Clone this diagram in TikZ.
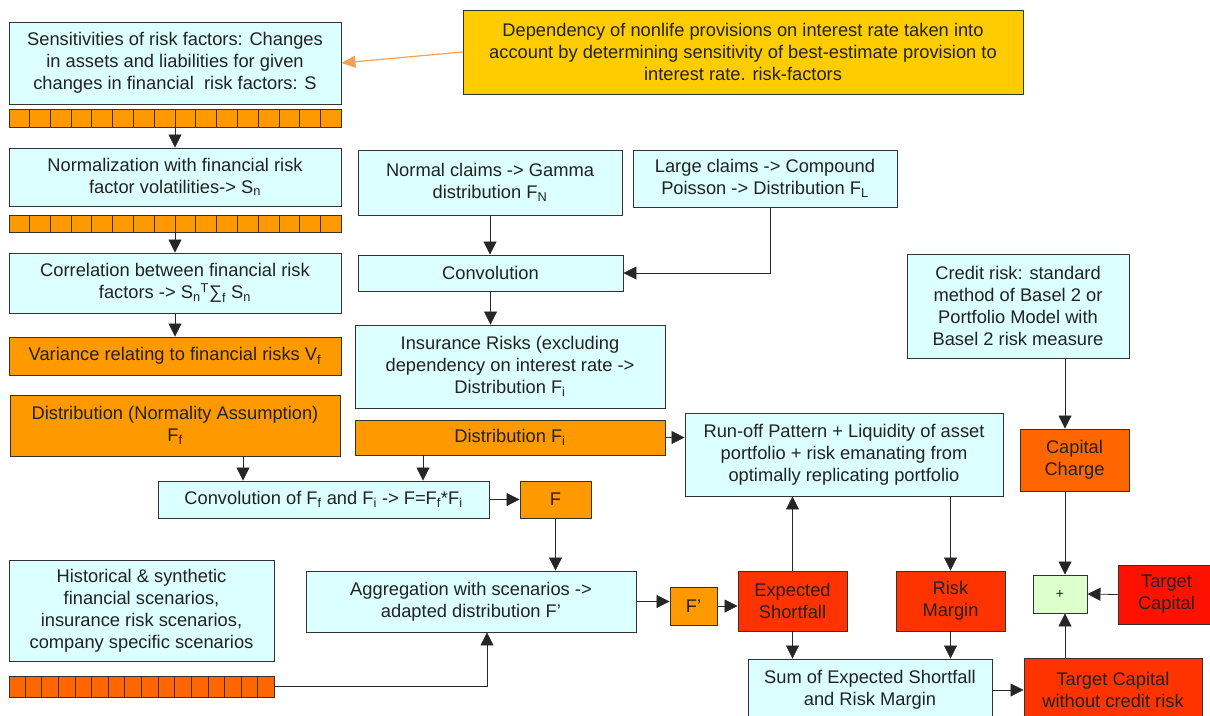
\documentclass[tikz,border=0pt]{standalone}
\usepackage{fontspec}
\setmainfont{Liberation Sans}
\usepackage{tikz}
\usetikzlibrary{shapes,positioning,calc}
\usetikzlibrary{arrows.meta}
\definecolor{azzurro}{HTML}{DCFFFF}
\definecolor{arancio}{HTML}{FF9900}
\definecolor{aranciosc}{HTML}{FF6600}
\definecolor{rosso}{HTML}{FF3300}
\definecolor{rossovivo}{HTML}{FF1100}
\definecolor{giallo}{HTML}{FFCC00}
\definecolor{verdino}{HTML}{DDFFCC}
\definecolor{bordo}{HTML}{333333}
\definecolor{testo}{HTML}{222222}
\definecolor{frecciaor}{HTML}{F5A055}
\tikzstyle{blocco} = [rectangle, draw=bordo, line width=0.9pt, inner sep=0pt, align=center, text=testo, font=\fontsize{18.3}{22}\selectfont]
\tikzstyle{fascia} = [rectangle, draw=bordo, line width=0.9pt, inner sep=0pt]
\tikzstyle{arrow} = [line width=0.8pt, draw=black!85, -{Triangle[width=13pt,length=13pt]}]
\tikzstyle{arrowor} = [line width=1.2pt, draw=frecciaor, -{Triangle[width=12pt,length=14pt]}]

\begin{document}
\begin{tikzpicture}[x=1pt,y=-1pt]
\useasboundingbox (0,0) rectangle (1210,715);
% colonna sinistra
\node (sens) at (175,63) [blocco, fill=azzurro, minimum width=332pt, minimum height=82pt] {Sensitivities of risk factors: Changes\\in assets and liabilities for given\\changes in financial\ \ risk factors: S};
\node (stripA) at (175,118) [fascia, fill=arancio, minimum width=332pt, minimum height=18pt] {};
\node (norm) at (175,177) [blocco, fill=azzurro, minimum width=332pt, minimum height=58pt] {Normalization with financial risk\\factor volatilities-> S\textsubscript{n}};
\node (stripB) at (175,223.5) [fascia, fill=arancio, minimum width=332pt, minimum height=17pt] {};
\node (corr) at (175,283) [blocco, fill=azzurro, minimum width=332pt, minimum height=60pt] {Correlation between financial risk\\factors -> S\textsubscript{n}\textsuperscript{T}∑\textsubscript{f} S\textsubscript{n}};
\node (var) at (175,356) [blocco, fill=arancio, minimum width=332pt, minimum height=38pt] {Variance relating to financial risks V\textsubscript{f}};
\node (distF) at (175,425.5) [blocco, fill=arancio, minimum width=330pt, minimum height=61pt] {Distribution (Normality Assumption)\\F\textsubscript{f}};
\node (hist) at (141.5,610.5) [blocco, fill=azzurro, minimum width=265pt, minimum height=101pt] {Historical \& synthetic\\financial scenarios,\\insurance risk scenarios,\\company specific scenarios};
\node (stripC) at (141.5,686.5) [fascia, fill=aranciosc, minimum width=265pt, minimum height=21pt] {};
\foreach \s in {stripA,stripB,stripC}
  \foreach \i in {1,...,15}
    \draw[bordo, line width=0.9pt] ($(\s.south west)!\i/16!(\s.south east)$) -- ($(\s.north west)!\i/16!(\s.north east)$);
% rischi assicurativi
\node (depend) at (743,52) [blocco, fill=giallo, minimum width=560pt, minimum height=84pt] {Dependency of nonlife provisions on interest rate taken into\\account by determining sensitivity of best-estimate provision to\\interest rate. risk-factors};
\node (normal) at (490,182.5) [blocco, fill=azzurro, minimum width=264pt, minimum height=65pt] {Normal claims -> Gamma\\distribution F\textsubscript{N}};
\node (large) at (765,178.5) [blocco, fill=azzurro, minimum width=264pt, minimum height=57pt] {Large claims -> Compound\\Poisson -> Distribution F\textsubscript{L}};
\node (conv) at (490.5,273) [blocco, fill=azzurro, minimum width=265pt, minimum height=36pt] {Convolution};
\node (ins) at (510,366.5) [blocco, fill=azzurro, minimum width=310pt, minimum height=83pt] {Insurance Risks (excluding\\dependency on interest rate ->\\Distribution F\textsubscript{i}};
\node (distI) at (510,437.5) [blocco, fill=arancio, minimum width=310pt, minimum height=35pt] {Distribution F\textsubscript{i}};
\node (convF) at (323.5,499.5) [blocco, fill=azzurro, minimum width=331pt, minimum height=37pt] {Convolution of F\textsubscript{f} and F\textsubscript{i} -> F=F\textsubscript{f}*F\textsubscript{i}};
\node (F) at (555.5,499.5) [blocco, fill=arancio, minimum width=71pt, minimum height=37pt] {F};
\node (agg) at (471,601.5) [blocco, fill=azzurro, minimum width=330pt, minimum height=61pt] {Aggregation with scenarios ->\\adapted distribution F’};
\node (Fp) at (693.5,606) [blocco, fill=arancio, minimum width=47pt, minimum height=38pt] {F’};
% capitale
\node (runoff) at (844,454.5) [blocco, fill=azzurro, minimum width=318pt, minimum height=83pt] {Run-off Pattern + Liquidity of asset\\portfolio + risk emanating from\\optimally replicating portfolio};
\node (credit) at (1018,306) [blocco, fill=azzurro, minimum width=222pt, minimum height=104pt] {Credit risk: standard\\method of Basel 2 or\\Portfolio Model with\\Basel 2 risk measure};
\node (capch) at (1074.5,460) [blocco, fill=aranciosc, minimum width=109pt, minimum height=62pt] {Capital\\Charge};
\node (ES) at (792.5,601) [blocco, fill=rosso, minimum width=109pt, minimum height=60pt] {Expected\\Shortfall};
\node (RM) at (950.5,601) [blocco, fill=rosso, minimum width=109pt, minimum height=60pt] {Risk\\Margin};
\node (plus) at (1060,594) [blocco, fill=verdino, minimum width=54pt, minimum height=38pt, font=\fontsize{14}{16}\selectfont] {+};
\node (TC) at (1166.5,594.5) [blocco, fill=rossovivo, minimum width=97pt, minimum height=59pt] {Target\\Capital};
\node (sum) at (870,690) [blocco, fill=azzurro, minimum width=244pt, minimum height=62pt] {Sum of Expected Shortfall\\and Risk Margin};
\node (TCW) at (1113,689.5) [blocco, fill=rosso, minimum width=178pt, minimum height=63pt] {Target Capital\\without credit risk};
\coordinate (vline) at ([xshift=5pt]plus.north);
% frecce
\draw[arrowor] (depend.west) -- (sens.east);
\draw[arrow] (stripA.south) -- (norm.north);
\draw[arrow] (stripB.south) -- (corr.north);
\draw[arrow] (corr.south) -- (var.north);
\draw[arrow] (normal.south) -- (normal.south |- conv.north);
\draw[arrow] ([xshift=5pt]large.south) |- (conv.east);
\draw[arrow] (conv.south) -- (conv.south |- ins.north);
\draw[arrow] ([xshift=68pt]distF.south) -- ([xshift=68pt]distF.south |- convF.north);
\draw[arrow] ([xshift=-87pt]distI.south) -- ([xshift=-87pt]distI.south |- convF.north);
\draw[arrow] (distI.east) -- (distI.east -| runoff.west);
\draw[arrow] (convF.east) -- (F.west);
\draw[arrow] (F.south) -- (F.south |- agg.north);
\draw[arrow] (stripC.east) -| ([xshift=16pt]agg.south);
\draw[arrow] (agg.east) -- (agg.east -| Fp.west);
\draw[arrow] (Fp.east) -- (Fp.east -| ES.west);
\draw[arrow] (ES.north) -- (ES.north |- runoff.south);
\draw[arrow] (runoff.south -| RM.north) -- (RM.north);
\draw[arrow] (credit.south -| vline) -- (capch.north -| vline);
\draw[arrow] (capch.south -| vline) -- (vline);
\draw[arrow] (TC.west) -- (plus.east);
\draw[arrow] (TCW.north -| vline) -- (plus.south -| vline);
\draw[arrow] (ES.south) -- (ES.south |- sum.north);
\draw[arrow] (RM.south) -- (RM.south |- sum.north);
\draw[arrow] (sum.east) -- (sum.east -| TCW.west);
\end{tikzpicture}
\end{document}
